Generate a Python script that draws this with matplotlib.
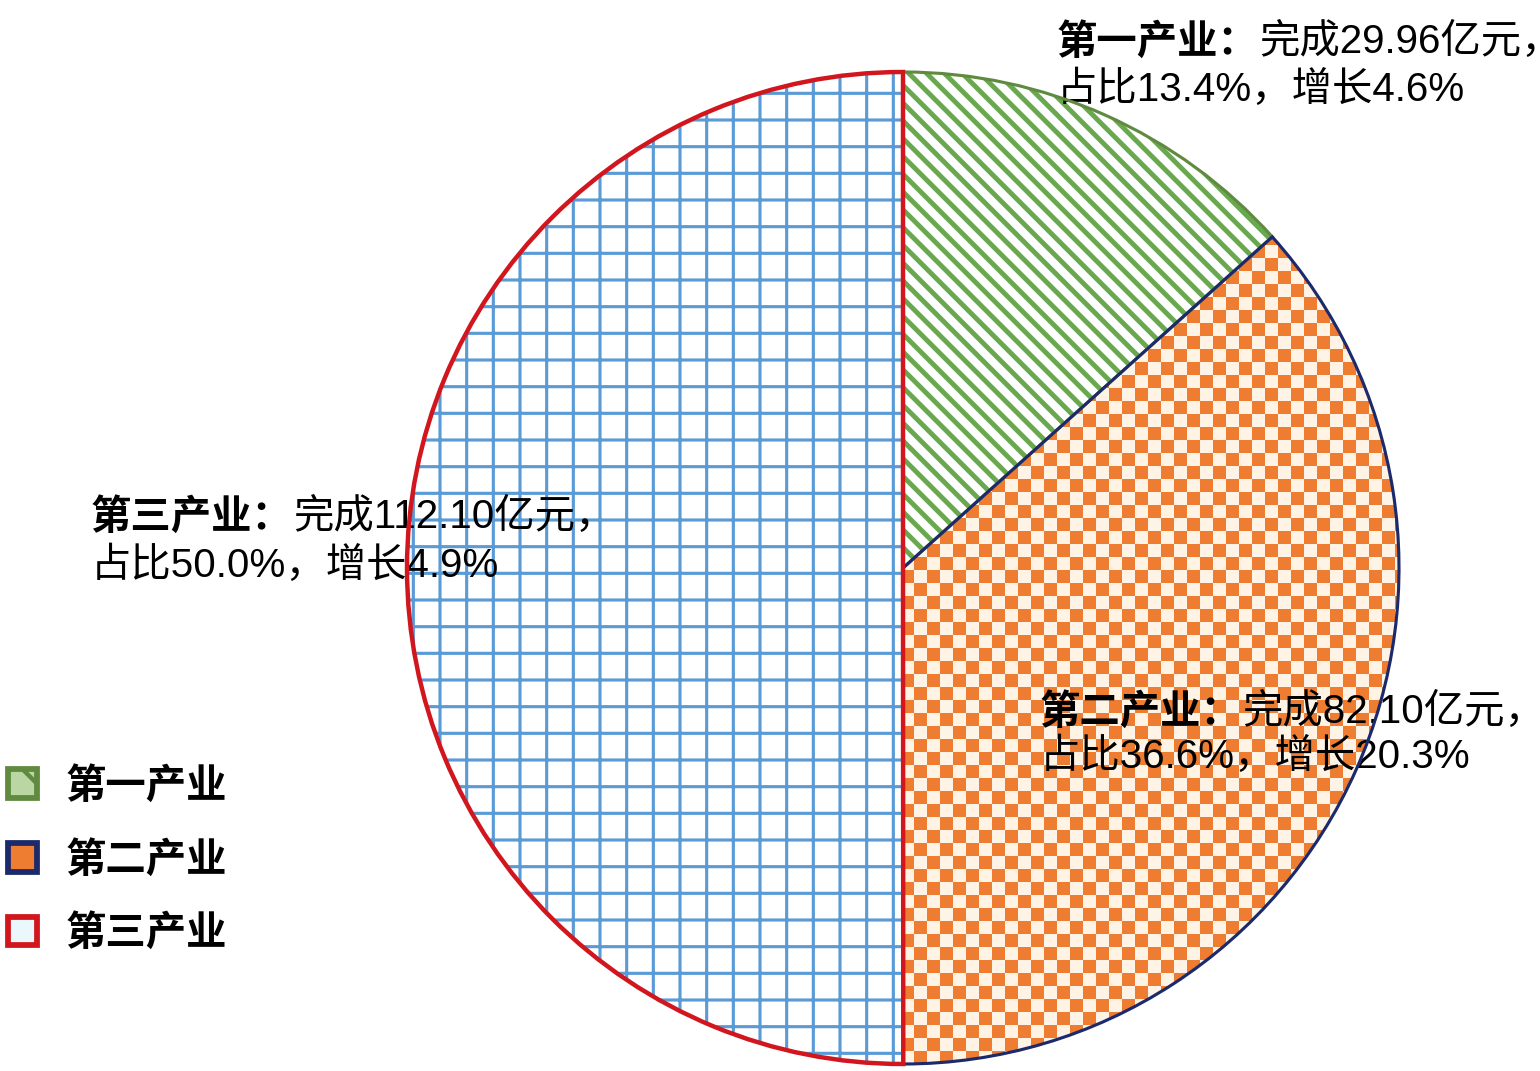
import numpy as np
import matplotlib
matplotlib.use("Agg")
import matplotlib.pyplot as plt
from matplotlib.colors import ListedColormap
from matplotlib.patches import Patch

plt.rcParams["font.family"] = ["Liberation Sans", "Noto Sans CJK SC", "DejaVu Sans"]

# ---------------------------------------------------------
# Data
# ---------------------------------------------------------
categories = ["第一产业", "第二产业", "第三产业"]
values = [29.96, 82.10, 112.10]      # 亿元
growth = [4.6, 20.3, 4.9]            # %

# ---------------------------------------------------------
# Layout / style
# ---------------------------------------------------------
# hatch cell = 1 inch = DPI px, so a high dpi keeps the hatch coarse
W, H, DPI = 1540, 1071, 320
FS = 9.1

label_pos = [(1057, 42, 90), (1040, 712, 757), (91, 517, 566)]  # x, line1 y, line2 y (px from top)

hatch_color = ["#6aa84f", None, "#5b9bd5"]
hatches = ["\\" * 6, None, "+" * 2]
hatch_lw = [1.1, None, 0.7]
edge_color = ["#5f8a3f", "#1c2a6b", "#d2161e"]
edge_lw = [0.7, 0.7, 1.0]

fig = plt.figure(figsize=(W / DPI, H / DPI), dpi=DPI)
ax = fig.add_axes([0, 0, 1, 1])

cx, cy, r = 903, H - 568, 496

# fills
wedges, _ = ax.pie(
    values,
    colors=["white"] * 3,
    startangle=90,
    counterclock=False,
    center=(cx, cy),
    radius=r,
    wedgeprops=dict(linewidth=0),
)
for w, h, hc, hl in zip(wedges, hatches, hatch_color, hatch_lw):
    w.set_zorder(1)
    if h:
        w.set_hatch(h)
        w.set_edgecolor(hc)
        if hasattr(w, "set_hatch_linewidth"):
            w.set_hatch_linewidth(hl)

# checkerboard texture for the second slice
cell = 13
n = int(2 * r / cell) + 3
checker = np.add.outer(np.arange(n), np.arange(n)) % 2
img = ax.imshow(
    checker,
    cmap=ListedColormap(["#fff3e6", "#ee7d31"]),
    extent=(cx - r - cell, cx - r - cell + cell * n, cy - r - cell, cy - r - cell + cell * n),
    interpolation="nearest",
    zorder=1.5,
)
img.set_clip_path(wedges[1])

# outlines
edges, _ = ax.pie(
    values,
    colors=["none"] * 3,
    startangle=90,
    counterclock=False,
    center=(cx, cy),
    radius=r,
    wedgeprops=dict(fill=False, linewidth=1),
)
for e, c, lw in zip(edges, edge_color, edge_lw):
    e.set_edgecolor(c)
    e.set_linewidth(lw)
    e.set_zorder(3)

ax.set_xlim(0, W)
ax.set_ylim(0, H)
ax.axis("off")

# ---------------------------------------------------------
# Labels
# ---------------------------------------------------------
total = sum(values)
for i, name in enumerate(categories):
    x, y1, y2 = label_pos[i]
    share = 100 * values[i] / total
    t1 = ax.text(x, H - y1, f"{name}：", fontsize=FS, fontweight="bold",
                 ha="left", va="center", zorder=2)
    ax.annotate(f"完成{values[i]:.2f}亿元，", xy=(1, 0.5), xycoords=t1,
                ha="left", va="center", fontsize=FS, zorder=2)
    ax.text(x, H - y2, f"占比{share:.1f}%，增长{growth[i]}%", fontsize=FS,
            ha="left", va="center", zorder=2)

# ---------------------------------------------------------
# Legend
# ---------------------------------------------------------
handles = [
    Patch(facecolor="#b9d6a3", edgecolor=edge_color[0], hatch="\\\\", linewidth=1.3),
    Patch(facecolor="#ee7d31", edgecolor=edge_color[1], linewidth=1.3),
    Patch(facecolor="#eaf8fb", edgecolor=edge_color[2], linewidth=1.3),
]
fig.legend(
    handles,
    categories,
    loc="center left",
    bbox_to_anchor=(8 / W, 1 - 860 / H),
    frameon=False,
    prop=dict(size=FS, weight="bold"),
    handlelength=0.72,
    handleheight=0.72,
    handletextpad=0.7,
    labelspacing=0.86,
    borderpad=0,
    borderaxespad=0,
)

fig.savefig("out.png", dpi=DPI)
plt.close(fig)
